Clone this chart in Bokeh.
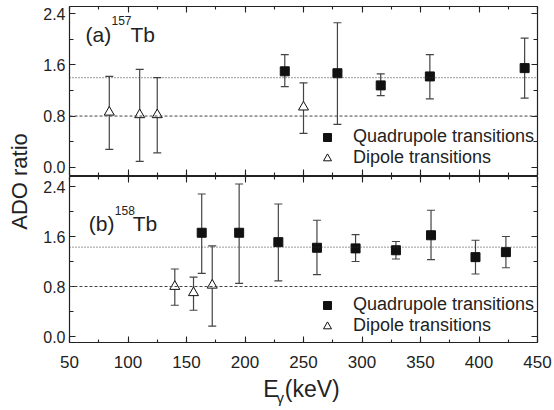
import math
from bokeh.plotting import figure
from bokeh.models import (Range1d, LinearAxis, SingleIntervalTicker, Whisker, TeeHead,
                          ColumnDataSource, Span, Label, Legend, LegendItem, PrintfTickFormatter)
from bokeh.layouts import row, column
from bokeh.embed import file_html
from bokeh.resources import INLINE

# ---------------- data ----------------
# (a) 157Tb
q_a_x = [234, 279, 316, 358, 439]
q_a_y = [1.50, 1.47, 1.28, 1.42, 1.55]
q_a_lo = [1.26, 0.67, 1.12, 1.07, 1.08]
q_a_hi = [1.76, 2.26, 1.46, 1.76, 2.02]
d_a_x = [84, 110, 125, 250]
d_a_y = [0.86, 0.82, 0.82, 0.94]
d_a_lo = [0.28, 0.09, 0.225, 0.53]
d_a_hi = [1.42, 1.53, 1.40, 1.32]

# (b) 158Tb
q_b_x = [163, 195, 228.5, 261.5, 294.5, 329, 359, 397, 423]
q_b_y = [1.66, 1.66, 1.51, 1.42, 1.41, 1.38, 1.62, 1.27, 1.35]
q_b_lo = [1.01, 0.85, 0.89, 0.99, 1.20, 1.24, 1.23, 1.00, 1.10]
q_b_hi = [2.28, 2.44, 2.12, 1.86, 1.63, 1.52, 2.02, 1.54, 1.60]
d_b_x = [140, 156, 172]
d_b_y = [0.80, 0.70, 0.82]
d_b_lo = [0.50, 0.42, 0.165]
d_b_hi = [1.08, 0.95, 1.45]

ref_dipole = 0.8
ref_quad_a = 1.40
ref_quad_b = 1.43

legend_labels = ["Quadrupole transitions", "Dipole transitions"]
x_label_parts = ["E", "\u03b3", "(keV)"]
y_label = "ADO ratio"

FONT = "Liberation Sans"
INK = "#222222"
BAR = "#444444"


def style_axis(ax, ticker, labels, standoff=4, tin=6, tmin=3, lw=1.2, fs="17px"):
    ax.ticker = ticker
    ax.axis_line_color = INK
    ax.axis_line_width = lw
    ax.major_tick_line_color = INK
    ax.minor_tick_line_color = INK
    ax.major_tick_line_width = 1.1
    ax.minor_tick_line_width = 1.1
    ax.major_tick_in = tin
    ax.major_tick_out = 0
    ax.minor_tick_in = tmin
    ax.minor_tick_out = 0
    if labels:
        ax.major_label_text_font = FONT
        ax.major_label_text_font_size = fs
        ax.major_label_text_color = INK
        ax.major_label_standoff = standoff
    else:
        ax.major_label_text_font_size = "0px"
        ax.major_label_standoff = 0
        ax.major_label_text_alpha = 0


def make_panel(qx, qy, qlo, qhi, dx, dy, dlo, dhi, yr, ref_q, height, btop, bbottom,
               xlabels, tag, iso, tag_pos, leg_y, top_lw, bottom_lw):
    p = figure(width=522, height=height, x_range=Range1d(50, 450), y_range=Range1d(*yr),
               min_border_left=37, min_border_right=17, min_border_top=btop,
               min_border_bottom=bbottom, toolbar_location=None, output_backend="svg",
               x_axis_location="below", y_axis_location="left")
    p.grid.visible = False
    p.outline_line_color = None
    p.background_fill_color = "white"

    style_axis(p.xaxis[0], SingleIntervalTicker(interval=50, num_minor_ticks=2), xlabels,
               standoff=13, tin=6, tmin=3, lw=bottom_lw, fs="17px")
    style_axis(p.yaxis[0], SingleIntervalTicker(interval=0.8, num_minor_ticks=2), True,
               standoff=4, tin=6, tmin=4, fs="16px")
    p.yaxis[0].formatter = PrintfTickFormatter(format="%.1f")

    top_ax = LinearAxis()
    style_axis(top_ax, SingleIntervalTicker(interval=50, num_minor_ticks=2), False,
               tin=6, tmin=3, lw=top_lw)
    p.add_layout(top_ax, "above")
    right_ax = LinearAxis()
    style_axis(right_ax, SingleIntervalTicker(interval=0.8, num_minor_ticks=2), False,
               tin=6, tmin=4)
    p.add_layout(right_ax, "right")

    p.add_layout(Span(location=ref_dipole, dimension="width", line_color="#444444",
                      line_dash="3 2", line_width=1))
    p.add_layout(Span(location=ref_q, dimension="width", line_color="#333333",
                      line_dash="1 2", line_width=1))

    qs = ColumnDataSource(dict(x=qx, y=qy, lo=qlo, hi=qhi))
    ds = ColumnDataSource(dict(x=dx, y=dy, lo=dlo, hi=dhi))
    for src in (qs, ds):
        p.add_layout(Whisker(base="x", upper="hi", lower="lo", source=src,
                             line_color=BAR, line_width=1.2,
                             upper_head=TeeHead(size=8, line_color=BAR, line_width=1.2),
                             lower_head=TeeHead(size=8, line_color=BAR, line_width=1.2)))

    rq = p.scatter("x", "y", source=qs, marker="square", size=9, fill_color="#111111",
                   line_color="#111111")
    rd = p.scatter("x", "y", source=ds, marker="triangle", size=10, fill_color="white",
                   line_color="#111111", line_width=1)

    leg = Legend(items=[LegendItem(label=legend_labels[0], renderers=[rq]),
                        LegendItem(label=legend_labels[1], renderers=[rd])],
                 location=(248, leg_y), padding=0, margin=0, spacing=0,
                 glyph_width=20, glyph_height=20, label_height=20, label_standoff=16,
                 label_text_font=FONT, label_text_font_size="18px", label_text_color=INK,
                 background_fill_alpha=0, border_line_color=None)
    p.add_layout(leg)

    (tx, ty, sx, sy, bx) = tag_pos
    p.add_layout(Label(x=tx, y=ty, text=tag, text_font=FONT, text_font_size="21px",
                       text_color=INK, text_baseline="middle"))
    p.add_layout(Label(x=sx, y=sy, text=iso, text_font=FONT, text_font_size="12px",
                       text_color=INK, text_baseline="middle"))
    p.add_layout(Label(x=bx, y=ty, text="Tb", text_font=FONT, text_font_size="21px",
                       text_color=INK, text_baseline="middle"))
    return p


top = make_panel(q_a_x, q_a_y, q_a_lo, q_a_hi, d_a_x, d_a_y, d_a_lo, d_a_hi,
                 (-0.130, 2.514), ref_quad_a, 176, 6, 1, False, "(a)", "157",
                 (63.7, 2.076, 85.9, 2.295, 102.1), 7, 1.2, 1.0)
bot = make_panel(q_b_x, q_b_y, q_b_lo, q_b_hi, d_b_x, d_b_y, d_b_lo, d_b_hi,
                 (-0.096, 2.56), ref_quad_b, 196, 0, 30, True, "(b)", "158",
                 (66.5, 1.803, 88.7, 2.016, 104.1), 6, 1.0, 1.2)

# x axis title (E with subscript gamma) in its own strip below the bottom panel
xlab = figure(width=522, height=38, x_range=Range1d(50, 450), y_range=Range1d(0, 38),
              min_border_left=37, min_border_right=17, min_border_top=0, min_border_bottom=0,
              toolbar_location=None, output_backend="svg",
              x_axis_location=None, y_axis_location=None)
xlab.outline_line_color = None
xlab.grid.visible = False
xlab.add_layout(Label(x=215.6, y=22, text=x_label_parts[0], text_font=FONT,
                      text_font_size="23px", text_color=INK, text_baseline="middle"))
xlab.add_layout(Label(x=227.0, y=13, text=x_label_parts[1], text_font=FONT,
                      text_font_size="15px", text_color=INK, text_baseline="middle"))
xlab.add_layout(Label(x=234.0, y=22, text=x_label_parts[2], text_font=FONT,
                      text_font_size="23px", text_color=INK, text_baseline="middle"))

# y axis title spanning both panels
lab = figure(width=32, height=410, x_range=Range1d(0, 32), y_range=Range1d(0, 410),
             min_border=0, toolbar_location=None, output_backend="svg",
             x_axis_location=None, y_axis_location=None)
lab.outline_line_color = None
lab.grid.visible = False
lab.add_layout(Label(x=19, y=229, text=y_label, angle=math.pi / 2, text_align="center",
                     text_baseline="middle", text_font=FONT, text_font_size="22px",
                     text_color=INK))

layout = row(lab, column(top, bot, xlab, spacing=0), spacing=0)
open("out.html", "w").write(file_html(layout, INLINE))
